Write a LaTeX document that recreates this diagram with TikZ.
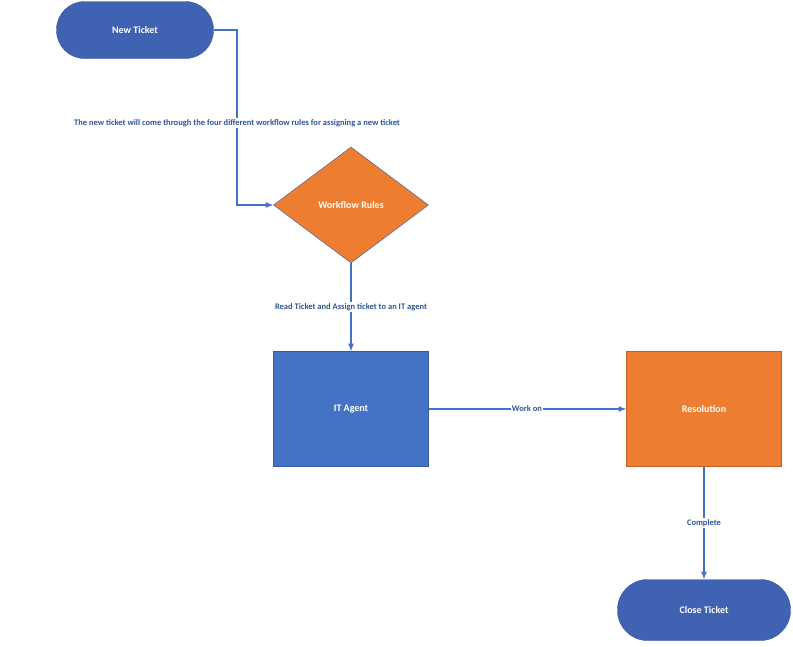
\documentclass[tikz,border=0pt]{standalone}
\usepackage{fontspec}
\setmainfont{Carlito}
\usetikzlibrary{shapes.geometric}
\definecolor{flowblue}{HTML}{4472C4}
\definecolor{termblue}{HTML}{3F62B3}
\definecolor{flowor}{HTML}{ED7D31}
\definecolor{labblue}{HTML}{2F5597}
\begin{document}
\begin{tikzpicture}[x=1pt,y=-1pt,every path/.style={>=latex},
  term/.style={draw=flowblue!80!black,fill=termblue,rounded corners=28pt,text=white,font=\bfseries\fontsize{10}{12}\selectfont},
  box/.style={draw=flowblue!80!black,rectangle,minimum width=155pt,minimum height=115pt,text=white,font=\bfseries\fontsize{10}{12}\selectfont},
  lab/.style={fill=white,inner sep=1pt,text=labblue,font=\bfseries\fontsize{8.5}{10}\selectfont},
  conn/.style={draw=flowblue,line width=1.6pt,->}]
\useasboundingbox (0,0) rectangle (793,646);
\node[term,minimum width=157pt,minimum height=57pt,rounded corners=28pt] (new) at (135,30) {New Ticket};
\node[diamond,aspect=1.34,minimum width=155pt,minimum height=116pt,inner sep=0pt,draw=flowblue!80!black,fill=flowor,text=white,font=\bfseries\fontsize{10}{12}\selectfont] (rules) at (351,205) {Workflow Rules};
\node[box,fill=flowblue] (agent) at (351,409) {IT Agent};
\node[box,fill=flowor,draw=flowor!80!black] (res) at (704,409) {Resolution};
\node[term,minimum width=173pt,minimum height=61pt,rounded corners=30pt] (close) at (704,610) {Close Ticket};
\coordinate (bend) at (237,30);
\draw[conn] (new.east) -- (bend) -- (bend |- rules.west) -- (rules.west);
\node[lab] (l1) at (237,123) {The new ticket will come through the four different workflow rules for assigning a new ticket};
\draw[conn] (rules.south) -- (agent.north);
\node[lab] (l2) at (351,307) {Read Ticket and Assign ticket to an IT agent};
\draw[conn] (agent.east) -- (res.west);
\node[lab] (l3) at (527,409) {Work on};
\draw[conn] (res.south) -- (close.north);
\node[lab] (l4) at (704,523) {Complete};
\end{tikzpicture}
\end{document}
